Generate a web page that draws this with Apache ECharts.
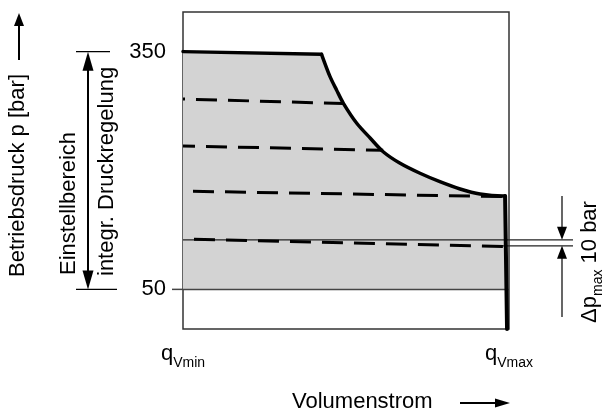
<!DOCTYPE html>
<html><head><meta charset="utf-8">
<script src="https://cdn.jsdelivr.net/npm/echarts@6/dist/echarts.min.js"></script>
<style>html,body{margin:0;padding:0;background:#fff}#c{width:604px;height:412px}</style>
</head><body><div id="c"></div>
<script>
const FONT = '"Liberation Sans", Arial, Helvetica, sans-serif';

// Top envelope (x = % of volume flow, p = bar)
const plateauX = [0, 42.5];
const plateauP = [350, 346.6];
const curveX = [42.5, 45.1, 47.1, 49.2, 53.3, 57.4, 61.4, 66.6, 72.7, 78.8, 85.0, 91.1, 98.2, 98.8];
const curveP = [346.6, 318.4, 301.6, 284.8, 259.6, 241.0, 223.7, 209.1, 196.5, 185.9, 176.7, 170.3, 167.8, 167.8];
const dropX = [98.8, 99.4];
const dropP = [167.8, 0];

// Dashed characteristic lines
const dash1X = [0, 49.2];  const dash1P = [290.2, 284.5];
const dash2X = [0, 61.4];  const dash2P = [231.0, 225.5];
const dash3X = [0, 98.8];  const dash3P = [174.0, 167.0];
const dash4X = [0, 98.8];  const dash4P = [113.5, 104.0];

// Reference lines
const baseX = [0, 100];    const baseP = [50, 50];
const refUpX = [0, 100];   const refUpP = [112.5, 112.5];
const refLoX = [94, 100];  const refLoP = [105, 105];

// Shaded region lower bound
const fillBottomP = 50;
const fillRightX = 99.2;

const yLabels = [50, 350];

const zip = (xs, ys) => xs.map((x, i) => [x, ys[i]]);

const chart = echarts.init(document.getElementById('c'), null, {renderer: 'canvas'});

const dashSeries = (xs, ps, off) => ({
  type: 'line', data: zip(xs, ps), symbol: 'none', silent: true, z: 4,
  lineStyle: {color: '#000', width: 3, type: [21, 11], dashOffset: off, cap: 'butt'}
});
const thinSeries = (xs, ps, w, c) => ({
  type: 'line', data: zip(xs, ps), symbol: 'none', silent: true, z: 3,
  lineStyle: {color: c, width: w}
});
const thick = (xs, ps, w, smooth) => ({
  type: 'line', data: zip(xs, ps), symbol: 'none', silent: true, z: 5,
  smooth: smooth,
  lineStyle: {color: '#000', width: w, cap: 'round', join: 'round'}
});

chart.setOption({
  animation: false,
  grid: {left: 183, right: 95, top: 12, bottom: 83, show: true, borderColor: '#333', borderWidth: 1.5, backgroundColor: 'transparent'},
  xAxis: {
    type: 'value', min: 0, max: 100, interval: 100,
    axisLine: {show: false}, axisTick: {show: false}, splitLine: {show: false},
    axisLabel: {
      margin: 14, showMinLabel: true, showMaxLabel: true,
      formatter: v => v === 0 ? '{q|q}{s|Vmin}' : (v === 100 ? '{q|q}{s|Vmax}' : ''),
      rich: {
        q: {fontSize: 22, fontFamily: FONT, color: '#000', padding: [0, 0, 5, 0], verticalAlign: 'bottom'},
        s: {fontSize: 14, fontFamily: FONT, color: '#000', verticalAlign: 'bottom'}
      }
    }
  },
  yAxis: {
    type: 'value', min: 0, max: 400, interval: 50,
    axisLine: {show: false}, axisTick: {show: false}, splitLine: {show: false},
    axisLabel: {
      margin: 17, fontSize: 22, fontFamily: FONT, color: '#000',
      formatter: v => yLabels.includes(v) ? String(v) : ''
    }
  },
  series: [
    {
      type: 'custom', silent: true, z: 1,
      data: [0],
      renderItem: (params, api) => {
        const pts = [];
        for (let i = 0; i < plateauX.length; i++) pts.push(api.coord([plateauX[i], plateauP[i]]));
        for (let i = 1; i < curveX.length; i++) pts.push(api.coord([curveX[i], curveP[i]]));
        pts.push(api.coord([fillRightX, fillBottomP]));
        pts.push(api.coord([0, fillBottomP]));
        return {type: 'polygon', shape: {points: pts}, style: {fill: '#d3d3d3', stroke: null}};
      }
    },
    thinSeries(baseX, baseP, 1.5, '#444'),
    thinSeries(refUpX, refUpP, 1.2, '#222'),
    thinSeries(refLoX, refLoP, 1.2, '#222'),
    dashSeries(dash1X, dash1P, 19),
    dashSeries(dash2X, dash2P, 9),
    dashSeries(dash3X, dash3P, 22),
    dashSeries(dash4X, dash4P, 21),
    thick(plateauX, plateauP, 3.5, false),
    thick(curveX, curveP, 3.5, 0.3),
    thick(dropX, dropP, 4, false)
  ]
});

// Annotations (positions derived from the axes)
const px = (x, p) => chart.convertToPixel({gridIndex: 0}, [x, p]);
const y350 = px(0, 350)[1], y50 = px(0, 50)[1];
const yUp = px(0, refUpP[0])[1], yLo = px(0, refLoP[0])[1];
const yTop = px(0, 400)[1];
const xLeft = px(0, 0)[0];
const xRight = px(100, 0)[0];

const black = {stroke: '#000', lineWidth: 2};
const arrowUp = (x, tipY, len, half) => ({type: 'polygon', shape: {points: [[x, tipY], [x - half, tipY + len], [x + half, tipY + len]]}, style: {fill: '#000'}});
const arrowDown = (x, tipY, len, half) => ({type: 'polygon', shape: {points: [[x, tipY], [x - half, tipY - len], [x + half, tipY - len]]}, style: {fill: '#000'}});
const arrowRight = (tipX, y, len, half) => ({type: 'polygon', shape: {points: [[tipX, y], [tipX - len, y - half], [tipX - len, y + half]]}, style: {fill: '#000'}});

const ax = 88;
const dx = 562;
chart.setOption({
  graphic: [
    // extensions of reference lines outside the box
    {type: 'line', shape: {x1: xLeft - 11, y1: y50, x2: xLeft, y2: y50}, style: {stroke: '#444', lineWidth: 1.5}},
    {type: 'line', shape: {x1: xRight, y1: yUp, x2: 573, y2: yUp}, style: {stroke: '#222', lineWidth: 1.2}},
    {type: 'line', shape: {x1: xRight, y1: yLo, x2: 573, y2: yLo}, style: {stroke: '#222', lineWidth: 1.2}},
    // y title with arrow
    {type: 'text', x: 18, y: 175.5, rotation: Math.PI / 2,
     style: {text: 'Betriebsdruck p [bar]', font: '22px ' + FONT, fill: '#000', textAlign: 'center', textVerticalAlign: 'middle'}},
    {type: 'line', shape: {x1: 19, y1: 60, x2: 19, y2: 22}, style: black},
    arrowUp(19, yTop + 1, 13, 5),
    // Einstellbereich arrow
    {type: 'line', shape: {x1: 76, y1: y350, x2: 110, y2: y350}, style: {stroke: '#000', lineWidth: 1.2}},
    {type: 'line', shape: {x1: 76, y1: y50, x2: 117, y2: y50}, style: {stroke: '#000', lineWidth: 1.2}},
    {type: 'line', shape: {x1: ax, y1: y350 + 10, x2: ax, y2: y50 - 10}, style: black},
    arrowUp(ax, y350, 19, 5.5),
    arrowDown(ax, y50, 19, 5.5),
    {type: 'text', x: 69, y: 275, rotation: Math.PI / 2,
     style: {text: 'Einstellbereich', font: '22px ' + FONT, fill: '#000', textAlign: 'left', textVerticalAlign: 'middle'}},
    {type: 'text', x: 107, y: 276, rotation: Math.PI / 2,
     style: {text: 'integr. Druckregelung', font: '22px ' + FONT, fill: '#000', textAlign: 'left', textVerticalAlign: 'middle'}},
    // delta p arrows
    {type: 'line', shape: {x1: dx, y1: 196, x2: dx, y2: yUp - 8}, style: {stroke: '#000', lineWidth: 1.2}},
    arrowDown(dx, yUp, 13, 5),
    {type: 'line', shape: {x1: dx, y1: yLo + 8, x2: dx, y2: 317}, style: {stroke: '#000', lineWidth: 1.2}},
    arrowUp(dx, yLo, 13, 5),
    {type: 'text', x: 592, y: 262, rotation: Math.PI / 2,
     style: {text: '{a|Δp}{s|max}{a| 10 bar}', font: '22px ' + FONT, fill: '#000', textAlign: 'center', textVerticalAlign: 'middle',
             rich: {a: {fontSize: 22, fontFamily: FONT, fill: '#000', padding: [0, 0, 5, 0], verticalAlign: 'bottom'},
                    s: {fontSize: 14, fontFamily: FONT, fill: '#000', verticalAlign: 'bottom'}}}},
    // x title with arrow
    {type: 'text', x: 292, y: 402,
     style: {text: 'Volumenstrom', font: '22px ' + FONT, fill: '#000', textAlign: 'left', textVerticalAlign: 'middle'}},
    {type: 'line', shape: {x1: 460, y1: 403, x2: 500, y2: 403}, style: black},
    arrowRight(xRight + 1, 403, 15, 4.5)
  ]
});
</script>
</body></html>
